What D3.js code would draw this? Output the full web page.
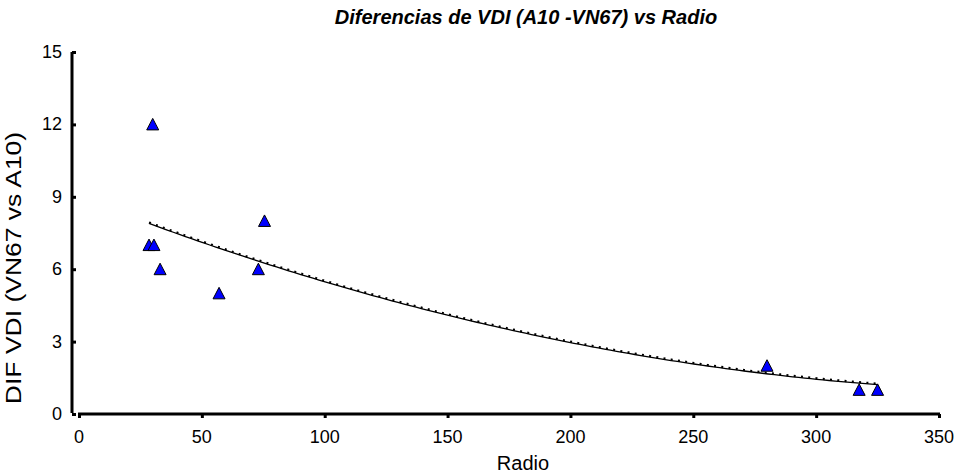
<!DOCTYPE html>
<html>
<head>
<meta charset="utf-8">
<title>Diferencias de VDI</title>
<script src="https://d3js.org/d3.v7.min.js"></script>
<style>
  body { margin: 0; background: #fff; }
  text { font-family: "Liberation Sans", Arial, sans-serif; fill: #000; }
</style>
</head>
<body>
<div id="chart"></div>
<script>
// datos
const radio = [28.5, 30.5, 30, 33, 57, 73, 75.5, 280, 317.5, 325];
const difVdi = [7, 7, 12, 6, 5, 6, 8, 2, 1, 1];
const xTicks = [0, 50, 100, 150, 200, 250, 300, 350];
const yTicks = [0, 3, 6, 9, 12, 15];
// linea de tendencia polinomica (grado 2): a + b*x + c*x^2
const trendCoef = [9.0, -0.0402, 0.00005];

const W = 957, H = 473;
const svg = d3.select("#chart").append("svg")
    .attr("width", W).attr("height", H);

const x = d3.scaleLinear().domain([0, 350]).range([79, 939]);
const y = d3.scaleLinear().domain([0, 15]).range([414, 52]);

// titulo
svg.append("text")
    .attr("x", 526).attr("y", 24)
    .attr("text-anchor", "middle")
    .style("font-size", "20px")
    .style("font-weight", "bold")
    .style("font-style", "italic")
    .text("Diferencias de VDI (A10 -VN67) vs Radio");

// eje y (separado del eje x, como en Excel)
const yAxis = svg.append("g").attr("transform", "translate(72,0)")
    .call(d3.axisRight(y).tickValues(yTicks).tickSize(4).tickFormat(""));
yAxis.select(".domain").attr("d", `M0,${y(15)}V${y(0) - 1}`).attr("stroke-width", 3);
yAxis.selectAll(".tick line").attr("stroke-width", 3);

yTicks.forEach(v => {
  svg.append("text")
      .attr("x", 62).attr("y", y(v) + 6)
      .attr("text-anchor", "end")
      .style("font-size", "18px")
      .text(v);
});

const xAxis = svg.append("g").attr("transform", `translate(0,${y(0)})`)
    .call(d3.axisBottom(x).tickValues(xTicks).tickSize(4).tickFormat(""));
xAxis.select(".domain").attr("d", `M${x(0) - 1},0H${x(350) + 1}`).attr("stroke-width", 3);
xAxis.selectAll(".tick line").attr("stroke-width", 3);

xTicks.forEach(v => {
  svg.append("text")
      .attr("x", x(v)).attr("y", 443)
      .attr("text-anchor", "middle")
      .style("font-size", "18px")
      .text(v);
});

// titulos de ejes
svg.append("text")
    .attr("x", 523).attr("y", 470)
    .attr("text-anchor", "middle")
    .style("font-size", "20px")
    .text("Radio");

svg.append("text")
    .attr("transform", "translate(21,268) rotate(-90) scale(1,0.8)")
    .attr("text-anchor", "middle")
    .style("font-size", "26.5px")
    .text("DIF VDI (VN67 vs A10)");

// linea de tendencia
const xMin = d3.min(radio), xMax = d3.max(radio);
const trend = d3.range(0, 121).map(i => {
  const xv = xMin + (xMax - xMin) * i / 120;
  return [xv, trendCoef[0] + trendCoef[1] * xv + trendCoef[2] * xv * xv];
});
const line = d3.line().x(d => x(d[0])).y(d => y(d[1]));

svg.append("path").datum(trend)
    .attr("d", line).attr("fill", "none")
    .attr("stroke", "#000").attr("stroke-width", 1.3);
svg.append("path").datum(trend)
    .attr("d", line).attr("fill", "none")
    .attr("transform", "translate(0,-1)")
    .attr("stroke", "#000").attr("stroke-width", 2.2)
    .attr("stroke-dasharray", "2,5.3");

// puntos (triangulos)
svg.selectAll(".pt")
    .data(radio.map((r, i) => [r, difVdi[i]]))
    .enter().append("path")
    .attr("class", "pt")
    .attr("transform", d => `translate(${x(d[0])},${y(d[1])})`)
    .attr("d", "M0,-6L6,5.5L-6,5.5Z")
    .attr("fill", "#0000ff")
    .attr("stroke", "#000")
    .attr("stroke-width", 1);
</script>
</body>
</html>
